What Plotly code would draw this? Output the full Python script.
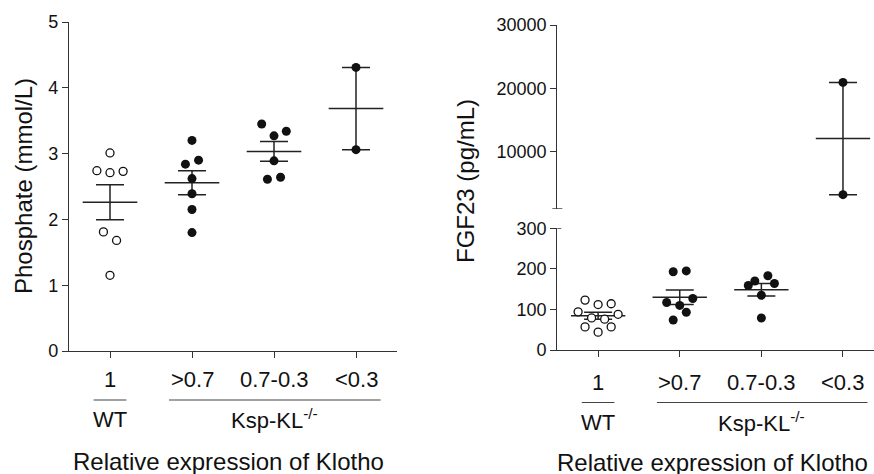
import numpy as np
import plotly.graph_objects as go

# ---------------- data ----------------
categories = ["1", ">0.7", "0.7-0.3", "<0.3"]
group_labels = ["WT", "Ksp-KL<sup>-/-</sup>"]

# Phosphate (mmol/L)
phos_wt = [3.01, 2.74, 2.71, 2.73, 1.81, 1.68, 1.15]
phos_wt_jit = [0.0, -0.16, 0.0, 0.16, -0.08, 0.08, 0.0]
phos_g1 = [3.20, 2.84, 2.90, 2.62, 2.39, 2.15, 1.80]
phos_g1_jit = [0.0, -0.08, 0.08, 0.0, 0.0, 0.0, 0.0]
phos_g2 = [3.45, 3.27, 3.34, 2.89, 2.61, 2.64]
phos_g2_jit = [-0.15, 0.0, 0.15, 0.0, -0.08, 0.08]
phos_g3 = [4.31, 3.06]
phos_g3_jit = [0.0, 0.0]

# FGF23 (pg/mL)
fgf_wt = [123, 112, 114, 94, 88, 79, 76, 57, 57, 44]
fgf_wt_jit = [-0.16, 0.0, 0.16, -0.245, 0.245, -0.08, 0.08, -0.16, 0.16, 0.0]
fgf_g1 = [193, 195, 117, 110, 127, 93, 74]
fgf_g1_jit = [-0.08, 0.08, -0.16, 0.0, 0.16, 0.08, -0.08]
fgf_g2 = [159, 170, 183, 164, 135, 79]
fgf_g2_jit = [-0.16, -0.08, 0.08, 0.16, 0.0, 0.0]
fgf_g3 = [20950, 3250]
fgf_g3_jit = [0.0, 0.0]

FONT = "Liberation Sans, Arial, sans-serif"
INK = "#111111"
LINE = "#222222"

fig = go.Figure()


def mean_sem(vals):
    a = np.asarray(vals, dtype=float)
    return a.mean(), a.std(ddof=1) / np.sqrt(len(a))


def add_group(idx, vals, jit, xa, ya, open_marker):
    m, s = mean_sem(vals)
    fig.add_trace(go.Scatter(
        x=[idx], y=[m], mode="markers", marker=dict(size=1, opacity=0),
        xaxis=xa, yaxis=ya, showlegend=False, hoverinfo="skip",
        error_x=dict(type="data", array=[0.333], symmetric=True, width=0,
                     thickness=1.5, color=LINE),
        error_y=dict(type="data", array=[s], symmetric=True, width=14,
                     thickness=1.5, color=LINE),
    ))
    xs = [idx + j for j in jit]
    if open_marker:
        mk = dict(symbol="circle", size=8, color="white",
                  line=dict(color=INK, width=1.3))
    else:
        mk = dict(symbol="circle", size=9, color=INK, line=dict(width=0))
    fig.add_trace(go.Scatter(x=xs, y=vals, mode="markers", marker=mk,
                             xaxis=xa, yaxis=ya, showlegend=False))


# left panel
add_group(0, phos_wt, phos_wt_jit, "x", "y", True)
add_group(1, phos_g1, phos_g1_jit, "x", "y", False)
add_group(2, phos_g2, phos_g2_jit, "x", "y", False)
add_group(3, phos_g3, phos_g3_jit, "x", "y", False)

# right panel (broken axis)
add_group(0, fgf_wt, fgf_wt_jit, "x2", "y2", True)
add_group(1, fgf_g1, fgf_g1_jit, "x2", "y2", False)
add_group(2, fgf_g2, fgf_g2_jit, "x2", "y2", False)
add_group(3, fgf_g3, fgf_g3_jit, "x2", "y3", False)

W, H = 874, 474
axis_common = dict(showline=True, linecolor="#333333", linewidth=1.2,
                   ticks="outside", ticklen=6, tickwidth=1.2,
                   tickcolor="#333333", showgrid=False, zeroline=False,
                   automargin=False,
                   tickfont=dict(family=FONT, size=18, color=INK))

fig.update_layout(
    width=W, height=H, margin=dict(l=0, r=0, t=0, b=0, autoexpand=False),
    paper_bgcolor="white", plot_bgcolor="white",
    xaxis=dict(domain=[69 / W, 397 / W], range=[-0.5, 3.5],
               tickvals=[0, 1, 2, 3], showticklabels=False, anchor="y",
               **axis_common),
    yaxis=dict(domain=[1 - 351 / H, 1 - 22 / H], range=[0, 5],
               tickvals=[0, 1, 2, 3, 4, 5], anchor="x", **axis_common),
    xaxis2=dict(domain=[557.3 / W, 1.0], range=[-0.5, 3.38],
                tickvals=[0, 1, 2, 3], showticklabels=False, anchor="y2",
                **axis_common),
    yaxis2=dict(domain=[1 - 350 / H, 1 - 228.3 / H], range=[0, 300],
                tickvals=[0, 100, 200, 300], anchor="x2", **axis_common),
    yaxis3=dict(domain=[1 - 208.9 / H, 1 - 25 / H], range=[1000, 30000],
                tickvals=[10000, 20000, 30000], tickformat="d", anchor="x2",
                **axis_common),
)

ann = []
shapes = []
# category labels + group labels
for xa, cat_y, ul_y, grp_y, title_y in [("x", 379.5, 400, 419, 461),
                                        ("x2", 382, 402.5, 422, 462)]:
    for i, c in enumerate(categories):
        ann.append(dict(x=i, y=1 - cat_y / H, xref=xa, yref="paper",
                        text=c, showarrow=False, xanchor="center",
                        yanchor="middle",
                        font=dict(family=FONT, size=22, color=INK)))
    shapes.append(dict(type="line", xref=xa, yref="paper", x0=-0.2, x1=0.2,
                       y0=1 - ul_y / H, y1=1 - ul_y / H,
                       line=dict(color="#444444", width=1.2)))
    shapes.append(dict(type="line", xref=xa, yref="paper", x0=0.72, x1=3.3,
                       y0=1 - ul_y / H, y1=1 - ul_y / H,
                       line=dict(color="#444444", width=1.2)))
    ann.append(dict(x=0, y=1 - grp_y / H, xref=xa, yref="paper",
                    text=group_labels[0], showarrow=False, xanchor="center",
                    yanchor="middle",
                    font=dict(family=FONT, size=22, color=INK)))
    ann.append(dict(x=2, y=1 - grp_y / H, xref=xa, yref="paper",
                    text=group_labels[1], showarrow=False, xanchor="center",
                    yanchor="middle",
                    font=dict(family=FONT, size=22, color=INK)))
    ann.append(dict(x=1.45 if xa == "x" else 1.4, y=1 - title_y / H, xref=xa,
                    yref="paper", text="Relative expression of Klotho",
                    showarrow=False, xanchor="center", yanchor="middle",
                    font=dict(family=FONT, size=24, color=INK)))

# y-axis titles
ann.append(dict(x=23 / W, y=1 - 186 / H, xref="paper", yref="paper",
                text="Phosphate (mmol/L)", textangle=-90, showarrow=False,
                xanchor="center", yanchor="middle",
                font=dict(family=FONT, size=24, color=INK)))
ann.append(dict(x=465 / W, y=1 - 181 / H, xref="paper", yref="paper",
                text="FGF23 (pg/mL)", textangle=-90, showarrow=False,
                xanchor="center", yanchor="middle",
                font=dict(family=FONT, size=24, color=INK)))

# axis-break end marks
bx = 557.3 / W
shapes.append(dict(type="line", xref="paper", yref="y3", x0=bx - 5 / W,
                   x1=bx + 5 / W, y0=1000, y1=1000,
                   line=dict(color="#333333", width=1.2)))
shapes.append(dict(type="line", xref="paper", yref="y2", x0=bx,
                   x1=bx + 4 / W, y0=300, y1=300,
                   line=dict(color="#333333", width=1.2)))

fig.update_layout(annotations=ann, shapes=shapes)
fig.write_html("out.html", config={"displayModeBar": False},
               post_script="document.body.style.margin='0';"
                           "document.body.style.padding='0';")
